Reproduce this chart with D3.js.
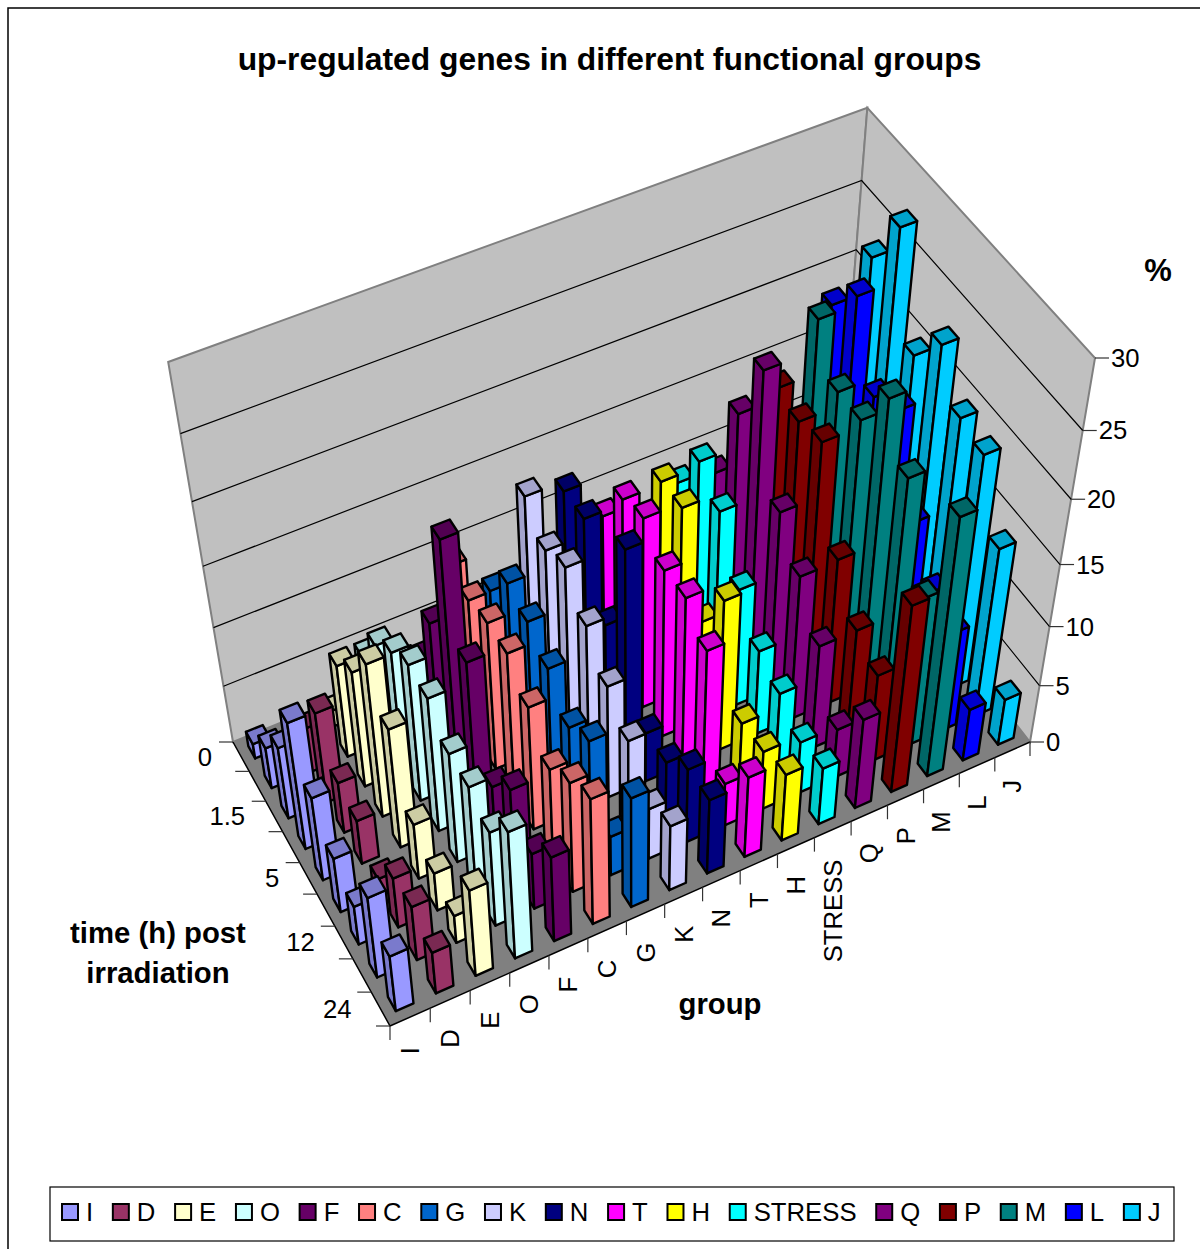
<!DOCTYPE html>
<html>
<head>
<meta charset="utf-8">
<title>up-regulated genes in different functional groups</title>
<script src="https://cdnjs.cloudflare.com/ajax/libs/d3/7.8.5/d3.min.js"></script>
<style>
  html, body { margin: 0; padding: 0; background: #fff; }
  svg { display: block; font-family: "Liberation Sans", Arial, sans-serif; }
</style>
</head>
<body>
<div id="chart"></div>
<script>
// 1: DATA
const groups = ["I", "D", "E", "O", "F", "C", "G", "K", "N", "T", "H", "STRESS", "Q", "P", "M", "L", "J"];
const times = ["0", "0.5", "1.5", "3", "5", "8", "12", "18", "24"];
const timeLabels = ["0", "1.5", "5", "12", "24"];
const percentTicks = [0, 5, 10, 15, 20, 25, 30];

// one array per group, values in time order
const valsI = [1.3, 3.6, 6.3, 11.1, 7.4, 4.9, 3.5, 7.3, 5.1];
const valsD = [1, 3.9, 7.9, 4.5, 3.9, 1.5, 4.5, 4.9, 3.8];
const valsE = [1.4, 8, 10, 13.2, 10.4, 4.9, 3.4, 2.5, 7.8];
const valsO = [5, 8.4, 10.3, 11.8, 11.6, 9.6, 9.5, 8.4, 11.3];
const valsF = [3, 5.9, 11.4, 20.4, 13.2, 5.3, 7.8, 5, 7.6];
const valsC = [5, 12.4, 12, 12.6, 12.6, 10.7, 8.1, 9.7, 11.1];
const valsG = [3, 9.1, 12.1, 11.4, 10, 7.6, 9.1, 3.5, 9.7];
const valsK = [5, 15.5, 13.5, 14.5, 12.2, 9.7, 7.7, 4.5, 5.8];
const valsN = [5, 14.7, 14.8, 8.5, 17, 4.3, 4.4, 6.5, 6.6];
const valsT = [5, 11.5, 15.1, 15.9, 14.1, 14.3, 12.5, 3.8, 7.1];
const valsH = [6, 8, 15.3, 15.5, 8.6, 12.8, 5, 5.2, 5.9];
const valsS = [5, 11.8, 15.7, 14, 10, 7.3, 6.2, 4.6, 5];
const valsQ = [5, 11.4, 18.2, 23.5, 15, 12.2, 8.9, 4.3, 7.8];
const valsP = [5, 8, 19, 18.6, 19.2, 12.3, 8.9, 7.6, 15.8];
const valsM = [8, 10, 23, 19.7, 19.7, 23.4, 19.7, 12.6, 21.3];
const valsL = [5, 21, 23.6, 18.2, 19.3, 12.8, 9.5, 8.5, 4.5];
const valsJ = [8, 23.4, 27.4, 20.2, 23, 19.7, 19.1, 14.1, 4];
const series = [valsI, valsD, valsE, valsO, valsF, valsC, valsG, valsK, valsN, valsT, valsH, valsS, valsQ, valsP, valsM, valsL, valsJ];
const colors = ["#9999FF", "#993366", "#FFFFCC", "#CCFFFF", "#660066", "#FF8080", "#0066CC", "#CCCCFF", "#000080", "#FF00FF", "#FFFF00", "#00FFFF", "#800080", "#800000", "#008080", "#0000FF", "#00CCFF"];

// 2: SVG AND SCALES
const width = 1200, height = 1249;
const svg = d3.select("#chart").append("svg")
    .attr("width", width)
    .attr("height", height);

// floor positions run 0-1 across both axes, height 0-1 up the walls
const xScale = d3.scaleBand().domain(groups).range([0, 1]).paddingInner(0.56).paddingOuter(0.28);
const zScale = d3.scaleBand().domain(times).range([0, 1]).paddingInner(0.58).paddingOuter(0.29);
const yScale = d3.scaleLinear().domain([0, 30]).range([0, 1]);

// 3: CAMERA - the box corners as they sit on screen, solved into homogeneous coordinates
const front = [390, 1026], left = [233, 742], right = [1030, 742];
const rightTop = [1095, 358];
const wRight = 1.074;
const wLeft = 1.0837;
const wz = -0.1511;
const ez = [
    (rightTop[0] - right[0]) * wRight + rightTop[0] * wz,
    (rightTop[1] - right[1]) * wRight + rightTop[1] * wz,
    wz
];
const hA = [front[0], front[1], 1];
const hB = [left[0] * wLeft, left[1] * wLeft, wLeft];
const hC = [right[0] * wRight, right[1] * wRight, wRight];

function project(u, v, h) {
    const p = [0, 1, 2].map(k => hB[k] + u * (hC[k] - hA[k]) + v * (hA[k] - hB[k]) + h * ez[k]);
    return [p[0] / p[2], p[1] / p[2]];
}
const poly = pts => "M" + pts.map(p => p.join(",")).join("L") + "Z";
const darker = col => {
    const r = d3.rgb(col);
    return d3.rgb(r.r * 0.8, r.g * 0.8, r.b * 0.8).formatHex();
};

// 4: OUTER BORDER
svg.append("path")
    .attr("d", `M8,${height}V8H${width}`)
    .attr("fill", "none")
    .attr("stroke", "#000")
    .attr("stroke-width", 1.5);

// 5: WALLS AND FLOOR
svg.append("path")
    .attr("d", poly([project(0, 0, 0), project(0, 0, 1), project(1, 0, 1), project(1, 0, 0)]))
    .attr("fill", "#C0C0C0").attr("stroke", "#808080").attr("stroke-width", 2);
svg.append("path")
    .attr("d", poly([project(1, 0, 0), project(1, 0, 1), project(1, 1, 1), project(1, 1, 0)]))
    .attr("fill", "#C0C0C0").attr("stroke", "#808080").attr("stroke-width", 2);
svg.append("path")
    .attr("d", poly([project(0, 0, 0), project(1, 0, 0), project(1, 1, 0), project(0, 1, 0)]))
    .attr("fill", "#808080");

// gridlines round the two walls
percentTicks.slice(1, -1).forEach(t => {
    const h = yScale(t);
    svg.append("path")
        .attr("d", "M" + [project(0, 0, h), project(1, 0, h), project(1, 1, h)].map(p => p.join(",")).join("L"))
        .attr("fill", "none").attr("stroke", "#000").attr("stroke-width", 1.2);
});

// front edges of the floor
svg.append("path")
    .attr("d", "M" + [project(0, 0, 0), project(0, 1, 0), project(1, 1, 0)].map(p => p.join(",")).join("L"))
    .attr("fill", "none").attr("stroke", "#000").attr("stroke-width", 1.5);

// 6: AXES
const tickStyle = sel => sel.attr("stroke", "#333").attr("stroke-width", 1.2);

d3.range(groups.length + 1).forEach(i => {
    const p = project(i / groups.length, 1, 0);
    svg.append("line").attr("x1", p[0]).attr("y1", p[1]).attr("x2", p[0]).attr("y2", p[1] + 14).call(tickStyle);
});
d3.range(times.length + 1).forEach(j => {
    const p = project(0, j / times.length, 0);
    svg.append("line").attr("x1", p[0]).attr("y1", p[1]).attr("x2", p[0] - 14).attr("y2", p[1]).call(tickStyle);
});
percentTicks.forEach(t => {
    const p = project(1, 1, yScale(t));
    svg.append("line").attr("x1", p[0]).attr("y1", p[1]).attr("x2", p[0] + 14).attr("y2", p[1]).call(tickStyle);
    svg.append("text")
        .attr("x", p[0] + 16).attr("y", p[1] + 9)
        .attr("font-size", 25.7).text(t);
});
groups.forEach((g, i) => {
    const p = project((i + 0.5) / groups.length, 1, 0);
    svg.append("text")
        .attr("transform", `translate(${p[0] + 9},${p[1] + 30}) rotate(-90)`)
        .attr("text-anchor", "end")
        .attr("font-size", 25.7).text(g);
});
times.forEach((t, j) => {
    if (!timeLabels.includes(t)) return;
    const p = project(0, (j + 0.5) / times.length, 0);
    svg.append("text")
        .attr("x", p[0] - 29).attr("y", p[1] + 9)
        .attr("text-anchor", "end")
        .attr("font-size", 25.7).text(t);
});

// 7: BARS - back row first, right to left, so nearer bars paint over
const barLayer = svg.append("g")
    .attr("stroke", "#000")
    .attr("stroke-width", 2.4)
    .attr("stroke-linejoin", "round");

times.forEach((t, j) => {
    for (let i = groups.length - 1; i >= 0; i--) {
        const value = series[i][j];
        if (!value) continue;
        const u0 = xScale(groups[i]), u1 = u0 + xScale.bandwidth();
        const v0 = zScale(t), v1 = v0 + zScale.bandwidth();
        const h = yScale(value);
        barLayer.append("path")
            .attr("d", poly([project(u0, v0, 0), project(u0, v1, 0), project(u0, v1, h), project(u0, v0, h)]))
            .attr("fill", darker(colors[i]));
        barLayer.append("path")
            .attr("d", poly([project(u0, v1, 0), project(u1, v1, 0), project(u1, v1, h), project(u0, v1, h)]))
            .attr("fill", colors[i]);
        barLayer.append("path")
            .attr("d", poly([project(u0, v0, h), project(u1, v0, h), project(u1, v1, h), project(u0, v1, h)]))
            .attr("fill", darker(colors[i]));
    }
});

// 8: TITLES
svg.append("text")
    .attr("x", 609.5).attr("y", 70)
    .attr("text-anchor", "middle")
    .attr("font-size", 31.8).attr("font-weight", "bold")
    .text("up-regulated genes in different functional groups");
svg.append("text")
    .attr("x", 1158).attr("y", 281)
    .attr("text-anchor", "middle")
    .attr("font-size", 31).attr("font-weight", "bold")
    .text("%");
svg.append("text")
    .attr("x", 158).attr("y", 943)
    .attr("text-anchor", "middle")
    .attr("font-size", 29.3).attr("font-weight", "bold")
    .text("time (h) post");
svg.append("text")
    .attr("x", 158).attr("y", 983)
    .attr("text-anchor", "middle")
    .attr("font-size", 29.3).attr("font-weight", "bold")
    .text("irradiation");
svg.append("text")
    .attr("x", 720).attr("y", 1014)
    .attr("text-anchor", "middle")
    .attr("font-size", 29.3).attr("font-weight", "bold")
    .text("group");

// 9: LEGEND
svg.append("rect")
    .attr("x", 50).attr("y", 1187)
    .attr("width", 1124).attr("height", 54)
    .attr("fill", "#fff").attr("stroke", "#000").attr("stroke-width", 1.2);

let legendX = 62;
groups.forEach((g, i) => {
    svg.append("rect")
        .attr("x", legendX).attr("y", 1204)
        .attr("width", 16).attr("height", 16)
        .attr("fill", colors[i]).attr("stroke", "#000").attr("stroke-width", 2);
    const label = svg.append("text")
        .attr("x", legendX + 24).attr("y", 1221)
        .attr("font-size", 25.7).text(g);
    legendX += 24 + label.node().getComputedTextLength() + 19.7;
});
</script>
</body>
</html>
